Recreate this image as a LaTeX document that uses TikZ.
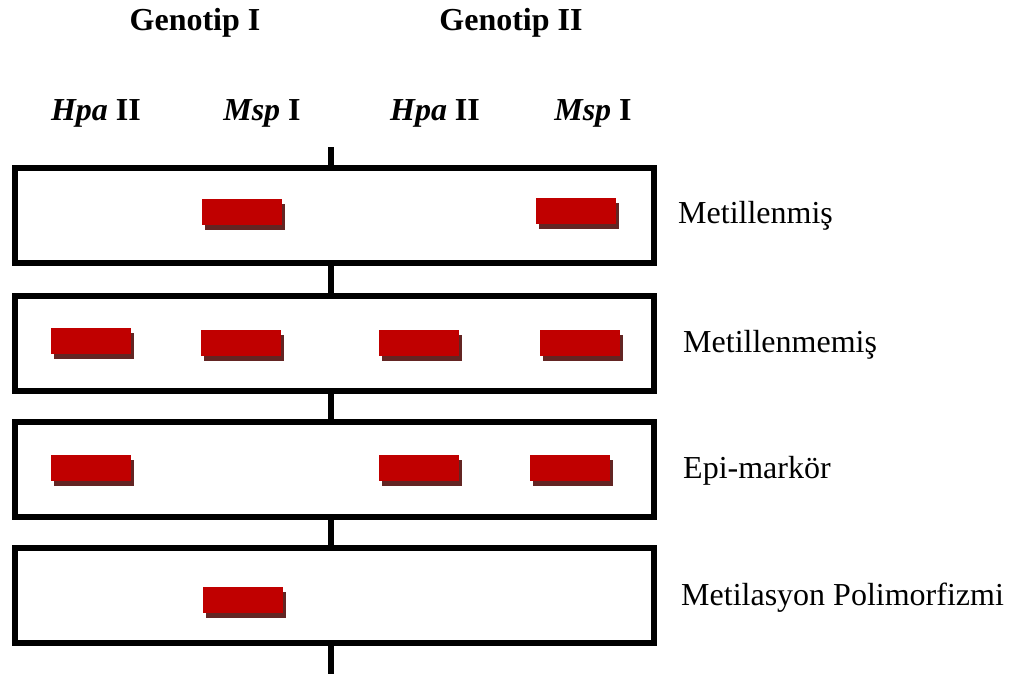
\documentclass[tikz,border=0pt]{standalone}
\usepackage{fontspec}
\setmainfont{Liberation Serif}
\usetikzlibrary{shadows}
\definecolor{bandred}{HTML}{C00000}
\definecolor{bandshade}{HTML}{632523}
\tikzset{
  rowbox/.style={draw=black, line width=6pt, fill=white, rectangle,
    inner sep=0pt, outer sep=0pt, minimum width=639pt, minimum height=95pt,
    anchor=north west},
  band/.style={fill=bandred, draw=none, rectangle, inner sep=0pt,
    minimum width=80pt, minimum height=26pt, anchor=north west,
    drop shadow={shadow xshift=3pt, shadow yshift=-5pt, fill=bandshade, opacity=1}},
  spine/.style={draw=black, line width=6pt},
  head/.style={font=\fontsize{32}{38}\selectfont\bfseries, anchor=base},
  enz/.style={font=\fontsize{32}{38}\selectfont, anchor=base},
  rowlabel/.style={font=\fontsize{32}{38}\selectfont, anchor=base west, inner sep=0pt},
}
\begin{document}
\begin{tikzpicture}[x=1pt, y=-1pt]
  \useasboundingbox (0,0) rectangle (1024,674);

  % central spine, drawn first so that the boxes cover it
  \coordinate (spinetop) at (331,147);
  \coordinate (spinebot) at (331,674);
  \draw[spine] (spinetop) -- (spinebot);

  % column headings
  \node[head] (g1) at (195,31) {Genotip I};
  \node[head] (g2) at (511,31) {Genotip II};
  \node[enz] (e1) at (96,121) {\textbf{\textit{Hpa}} \textbf{II}};
  \node[enz] (e2) at (262,121) {\textbf{\textit{Msp}} \textbf{I}};
  \node[enz] (e3) at (435,121) {\textbf{\textit{Hpa}} \textbf{II}};
  \node[enz] (e4) at (593,121) {\textbf{\textit{Msp}} \textbf{I}};

  % one box per methylation case
  \node[rowbox] (r1) at (15,168) {};
  \node[rowbox] (r2) at (15,296) {};
  \node[rowbox] (r3) at (15,422) {};
  \node[rowbox] (r4) at (15,548) {};

  % bands
  \node[band] (b11) at (202,199) {};
  \node[band] (b12) at (536,198) {};

  \node[band] (b21) at (51,328) {};
  \node[band] (b22) at (201,330) {};
  \node[band] (b23) at (379,330) {};
  \node[band] (b24) at (540,330) {};

  \node[band] (b31) at (51,455) {};
  \node[band] (b32) at (379,455) {};
  \node[band] (b33) at (530,455) {};

  \node[band] (b41) at (203,587) {};

  % row labels
  \node[rowlabel] (l1) at (678,223) {Metillenmiş};
  \node[rowlabel] (l2) at (683,352) {Metillenmemiş};
  \node[rowlabel] (l3) at (683,478) {Epi-markör};
  \node[rowlabel] (l4) at (681,605) {Metilasyon Polimorfizmi};
\end{tikzpicture}
\end{document}
